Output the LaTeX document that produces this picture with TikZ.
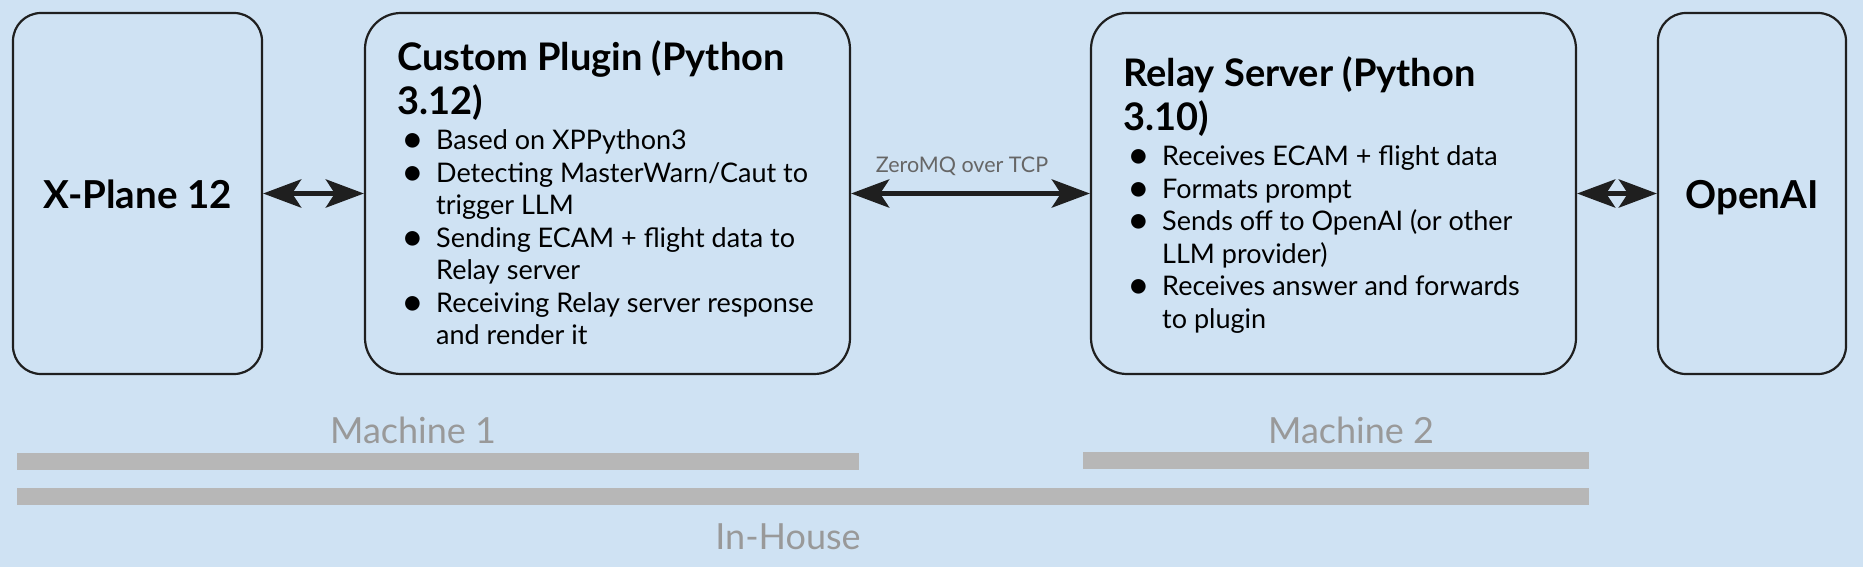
\documentclass[tikz,border=0pt]{standalone}
\usepackage{fontspec}
\setmainfont{Lato}
\usetikzlibrary{arrows.meta}
\definecolor{bg}{HTML}{CFE2F3}
\definecolor{barc}{HTML}{B7B7B7}
\definecolor{lbl}{HTML}{999999}
\definecolor{zlbl}{HTML}{666666}
\definecolor{edgec}{HTML}{1F1F1F}
\newcommand\bitem[1]{\par\hangindent=39pt\hangafter=1\noindent\makebox[39pt][l]{\hspace{4pt}\raisebox{-3pt}{\scalebox{1.45}{\textbullet}}}#1\par}
\tikzset{
  box/.style={draw=edgec, line width=2.2pt, rounded corners=#1, fill=bg, inner sep=0pt},
  box/.default=28pt,
  biarrow/.style={draw=edgec, line width=5.5pt, {Stealth[length=38pt, width=28pt, inset=9pt]}-{Stealth[length=38pt, width=28pt, inset=9pt]}, shorten <=0pt, shorten >=0pt},
  bigname/.style={font=\fontsize{38.5}{42}\selectfont\bfseries, text=black, inner sep=0pt, anchor=base},
  grouplbl/.style={font=\fontsize{36}{40}\selectfont, text=lbl, inner sep=0pt, anchor=base},
  bartrack/.style={fill=barc},
  content/.style={anchor=base west, inner sep=0pt, text=black}
}
\begin{document}
\begin{tikzpicture}[x=1pt,y=-1pt]
\useasboundingbox (0,0) rectangle (1863,567);
\fill[bg] (0,0) rectangle (1863,567);

% boxes
\node[box, minimum width=249pt, minimum height=361pt] (xp) at (137.5,193.5) {};
\node[box=36pt, minimum width=485pt, minimum height=361pt] (cp) at (607.5,193.5) {};
\node[box=36pt, minimum width=485pt, minimum height=361pt] (rs) at (1333.5,193.5) {};
\node[box, minimum width=188pt, minimum height=361pt] (oa) at (1752,193.5) {};

% box texts
\node[bigname] (xptext) at (137.5,208) {X-Plane 12};
\node[bigname] (oatext) at (1752,208) {OpenAI};

\node[content] (cptext) at (397,71) {\begin{minipage}[t]{425pt}\lineskiplimit=-100pt\parindent=0pt
{\fontsize{38}{44}\selectfont\bfseries Custom Plugin (Python\newline 3.12)\par}
\fontsize{27}{32.5}\selectfont
\vspace{2.5pt}
\bitem{Based on XPPython3}
\bitem{Detecting MasterWarn/Caut to\newline trigger LLM}
\bitem{Sending ECAM + flight data to\newline Relay server}
\bitem{Receiving Relay server response\newline and render it}
\end{minipage}};

\node[content] (rstext) at (1123,87) {\begin{minipage}[t]{425pt}\lineskiplimit=-100pt\parindent=0pt
{\fontsize{38}{44}\selectfont\bfseries Relay Server (Python\newline 3.10)\par}
\fontsize{27}{32.5}\selectfont
\vspace{2.5pt}
\bitem{Receives ECAM + flight data}
\bitem{Formats prompt}
\bitem{Sends off to OpenAI (or other\newline LLM provider)}
\bitem{Receives answer and forwards\newline to plugin}
\end{minipage}};

% connectors
\draw[biarrow] (xp.east) -- (cp.west);
\draw[biarrow] (cp.east) -- (rs.west);
\draw[biarrow] (rs.east) -- (oa.west);
\node[font=\fontsize{21.5}{24}\selectfont, text=zlbl, inner sep=0pt, anchor=base] (zmq) at (962,172) {ZeroMQ over TCP};

% grouping bars
\fill[bartrack] (17,453) rectangle (859,470);
\fill[bartrack] (1083,452) rectangle (1589,469);
\fill[bartrack] (17,488) rectangle (1589,505);
\node[grouplbl] (m1) at (413,443) {Machine 1};
\node[grouplbl] (m2) at (1351,443) {Machine 2};
\node[grouplbl] (inh) at (788,549) {In-House};
\end{tikzpicture}
\end{document}
